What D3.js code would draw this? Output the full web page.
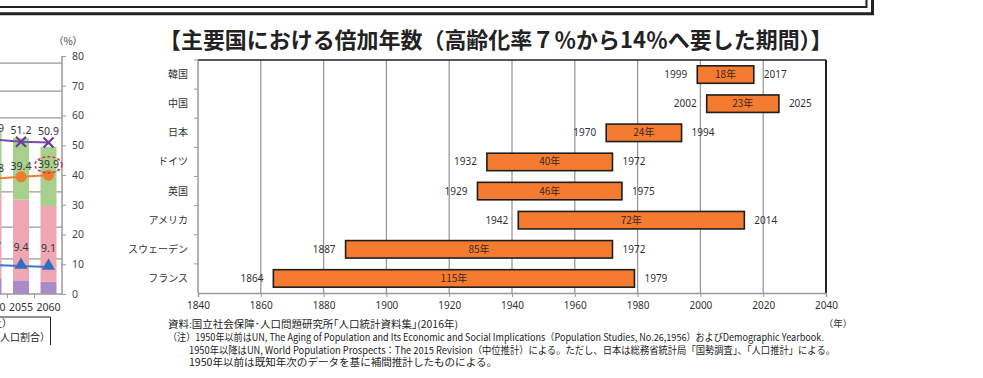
<!DOCTYPE html>
<html>
<head>
<meta charset="utf-8">
<script src="https://cdn.jsdelivr.net/npm/d3@7"></script>
<style>
  body { margin: 0; background: #fff; }
  svg { display: block; font-family: "Noto Sans CJK JP", "Noto Sans", sans-serif; }
</style>
</head>
<body>
<div id="chart"></div>
<script>
// データ（右：倍加年数）
var countries = ["韓国", "中国", "日本", "ドイツ", "英国", "アメリカ", "スウェーデン", "フランス"];
var startYears = [1999, 2002, 1970, 1932, 1929, 1942, 1887, 1864];
var endYears = [2017, 2025, 1994, 1972, 1975, 2014, 1972, 1979];
var xTicks = [1840, 1860, 1880, 1900, 1920, 1940, 1960, 1980, 2000, 2020, 2040];

// データ（左：切れている図）
var leftYears = ["2050", "2055", "2060"];
var stackPurple = [5.3, 4.6, 4.1];
var stackPink = [28.6, 27.1, 25.5];
var stackGreen = [21.1, 20.7, 19.9];
var lineCross = [51.9, 51.2, 50.9];
var lineCircle = [38.8, 39.4, 39.9];
var lineTriangle = [9.7, 9.4, 9.1];
var leftTicks = [0, 10, 20, 30, 40, 50, 60, 70, 80];
var tableRules = [11.8, 22.5, 34.3, 59.2, 68.2, 77.6];

var notes = [
  "資料:国立社会保障･人口問題研究所｢人口統計資料集｣(2016年)",
  "（注）1950年以前はUN, The Aging of Population and Its Economic and Social Implications（Population Studies, No.26,1956）およびDemographic Yearbook.",
  "1950年以降はUN, World Population Prospects：The 2015 Revision（中位推計）による。ただし、日本は総務省統計局「国勢調査」、「人口推計」による。",
  "1950年以前は既知年次のデータを基に補間推計したものによる。"
];

var width = 983, height = 378;

var svg = d3.select("#chart").append("svg")
    .attr("width", width)
    .attr("height", height);

// 上の二重線の枠
svg.append("path").attr("d", "M0,7H866.5V0").attr("fill", "none").attr("stroke", "#222").attr("stroke-width", 2);
svg.append("path").attr("d", "M0,13.8H872.5V0").attr("fill", "none").attr("stroke", "#222").attr("stroke-width", 3);

// ---------- 左の図（一部だけ見えている） ----------
var gl = svg.append("g");
var ly = d3.scaleLinear().domain([0, 80]).range([294, 56]);
var lx = d3.scalePoint().domain(leftYears).range([-6.5, 48.5]);

gl.selectAll("line.rule")
    .data(tableRules)
    .join("line")
    .attr("x1", 0).attr("x2", 62)
    .attr("y1", d => ly(d)).attr("y2", d => ly(d))
    .attr("stroke", "#9a9a9a").attr("stroke-width", 1.2);

var stacks = [
  { vals: stackPurple, color: "#a98bc9" },
  { vals: stackPink, color: "#f1a7b3" },
  { vals: stackGreen, color: "#a8d08d" }
];
var base = [0, 0, 0];
stacks.forEach(function (s) {
  var b0 = base.slice();
  gl.selectAll(null)
      .data(leftYears)
      .join("rect")
      .attr("x", d => lx(d) - 8)
      .attr("width", 16)
      .attr("y", (d, i) => ly(b0[i] + s.vals[i]))
      .attr("height", (d, i) => ly(b0[i]) - ly(b0[i] + s.vals[i]))
      .attr("fill", s.color);
  base = base.map((v, i) => v + s.vals[i]);
});

// 右軸
gl.append("line").attr("x1", 62).attr("x2", 62).attr("y1", 56).attr("y2", 294)
    .attr("stroke", "#9a9a9a").attr("stroke-width", 1.5);
gl.append("line").attr("x1", 0).attr("x2", 62).attr("y1", 294).attr("y2", 294)
    .attr("stroke", "#9a9a9a").attr("stroke-width", 1.5);
gl.selectAll("line.bt")
    .data([7.5, 34.5])
    .join("line")
    .attr("x1", d => d).attr("x2", d => d).attr("y1", 294).attr("y2", 298)
    .attr("stroke", "#9a9a9a");
var laxis = gl.append("g").attr("transform", "translate(62,0)")
    .call(d3.axisRight(ly).tickValues(leftTicks).tickSize(4).tickPadding(6));
laxis.select(".domain").remove();
laxis.selectAll("line").attr("stroke", "#9a9a9a");
laxis.selectAll("text").attr("font-size", 10.5).attr("fill", "#444").attr("font-family", "Noto Sans, sans-serif");
gl.append("text").attr("x", 68).attr("y", 45).attr("text-anchor", "middle")
    .attr("font-size", 10).attr("fill", "#444").text("（%）");

// 折れ線
function drawLine(vals, color) {
  gl.append("path")
      .datum(vals)
      .attr("d", d3.line().x((d, i) => lx(leftYears[i])).y(d => ly(d)))
      .attr("fill", "none").attr("stroke", color).attr("stroke-width", 2);
}
drawLine(lineCross, "#7a4aa8");
drawLine(lineCircle, "#ed7d31");
drawLine(lineTriangle, "#3a78c3");

gl.selectAll("path.cross")
    .data(lineCross)
    .join("path")
    .attr("d", (d, i) => {
      var x = lx(leftYears[i]), y = ly(d), r = 5;
      return "M" + (x - r) + "," + (y - r) + "L" + (x + r) + "," + (y + r) + "M" + (x - r) + "," + (y + r) + "L" + (x + r) + "," + (y - r);
    })
    .attr("stroke", "#6a3a9c").attr("stroke-width", 2.2);
gl.selectAll("circle.dot")
    .data(lineCircle)
    .join("circle")
    .attr("cx", (d, i) => lx(leftYears[i])).attr("cy", d => ly(d)).attr("r", 5.5)
    .attr("fill", "#ed7d31");
gl.selectAll("path.tri")
    .data(lineTriangle)
    .join("path")
    .attr("d", d3.symbol().type(d3.symbolTriangle).size(75))
    .attr("transform", (d, i) => "translate(" + lx(leftYears[i]) + "," + (ly(d) - 1) + ")")
    .attr("fill", "#2f6fbf");

function lineLabels(vals, dy) {
  gl.selectAll(null)
      .data(vals)
      .join("text")
      .attr("x", (d, i) => lx(leftYears[i]))
      .attr("y", d => ly(d) - dy)
      .attr("text-anchor", "middle")
      .attr("font-size", 10.5).attr("fill", "#333")
      .attr("font-family", "Noto Sans, sans-serif")
      .text(d => d.toFixed(1));
}
lineLabels(lineCross, 8);
lineLabels(lineCircle, 7);
lineLabels(lineTriangle, 15);

// 2060年の39.9を囲む赤い点線
gl.append("ellipse")
    .attr("cx", lx("2060")).attr("cy", ly(lineCircle[2]) - 10.5)
    .attr("rx", 13.5).attr("ry", 8)
    .attr("fill", "none").attr("stroke", "#d9303a").attr("stroke-width", 1.5)
    .attr("stroke-dasharray", "3,2");

gl.selectAll("text.xl")
    .data(leftYears)
    .join("text")
    .attr("x", d => lx(d)).attr("y", 311)
    .attr("text-anchor", "middle")
    .attr("font-size", 10.5).attr("fill", "#333")
    .attr("font-family", "Noto Sans, sans-serif")
    .text(d => d);

// 凡例の箱（一部）
gl.append("path").attr("d", "M0,317H50.5V345").attr("fill", "none").attr("stroke", "#222").attr("stroke-width", 1);
gl.append("text").attr("x", 12).attr("y", 327).attr("text-anchor", "end")
    .attr("font-size", 10).attr("fill", "#222").text("（65歳以上）");
gl.append("text").attr("x", 50).attr("y", 341).attr("text-anchor", "end")
    .attr("font-size", 10).attr("fill", "#222").text("（生産年齢人口割合）");

// ---------- 右の図：倍加年数 ----------
var margin = { left: 198, right: 826, top: 60, bottom: 293 };

var x = d3.scaleLinear().domain([1840, 2040]).range([margin.left, margin.right]);
var y = d3.scaleBand().domain(countries).range([margin.top, margin.bottom]).paddingInner(0.4).paddingOuter(0.2);
var yb = d3.scaleBand().domain(countries).range([margin.top, margin.bottom]);

var g = svg.append("g");

// タイトル（元の図の幅に合わせる）
g.append("text")
    .attr("x", 159).attr("y", 48)
    .attr("font-size", 21).attr("font-weight", "bold").attr("fill", "#222")
    .text("【主要国における倍加年数（高齢化率７％から14％へ要した期間）】")
    .each(function () {
      var w = this.getComputedTextLength();
      if (w > 0) d3.select(this).attr("font-size", 21 * 674 / w);
    });

// 縦のグリッド線
g.selectAll("line.grid")
    .data(xTicks.slice(1, -1))
    .join("line")
    .attr("x1", d => x(d)).attr("x2", d => x(d))
    .attr("y1", margin.top).attr("y2", margin.bottom)
    .attr("stroke", "#9a9a9a").attr("stroke-width", 1.3);

// 枠（上と右は黒）
g.append("line").attr("x1", margin.left).attr("x2", margin.right).attr("y1", margin.top).attr("y2", margin.top)
    .attr("stroke", "#222").attr("stroke-width", 1.5);
g.append("line").attr("x1", margin.right).attr("x2", margin.right).attr("y1", margin.top).attr("y2", margin.bottom)
    .attr("stroke", "#222").attr("stroke-width", 2);

// 軸
var xAxis = g.append("g").attr("transform", "translate(0," + margin.bottom + ")")
    .call(d3.axisBottom(x).tickValues(xTicks).tickFormat(d3.format("d")).tickSize(4).tickPadding(5));
xAxis.select(".domain").attr("stroke", "#9a9a9a").attr("stroke-width", 1.5);
xAxis.selectAll("line").attr("stroke", "#9a9a9a");
xAxis.selectAll("text").attr("font-size", 10).attr("fill", "#333").attr("font-family", "Noto Sans, sans-serif");

g.append("line").attr("x1", margin.left).attr("x2", margin.left).attr("y1", margin.top).attr("y2", margin.bottom)
    .attr("stroke", "#9a9a9a").attr("stroke-width", 1.5);
g.selectAll("line.ytick")
    .data(countries)
    .join("line")
    .attr("x1", margin.left - 4).attr("x2", margin.left)
    .attr("y1", d => yb(d)).attr("y2", d => yb(d))
    .attr("stroke", "#9a9a9a");

g.selectAll("text.cat")
    .data(countries)
    .join("text")
    .attr("x", 188)
    .attr("y", d => yb(d) + yb.bandwidth() / 2)
    .attr("dy", "0.35em")
    .attr("text-anchor", "end")
    .attr("font-size", 10).attr("fill", "#333")
    .text(d => d);

// バー
g.selectAll("rect.bar")
    .data(countries)
    .join("rect")
    .attr("x", (d, i) => x(startYears[i]))
    .attr("width", (d, i) => x(endYears[i]) - x(startYears[i]))
    .attr("y", d => y(d))
    .attr("height", y.bandwidth())
    .attr("fill", "#f47b30")
    .attr("stroke", "#1e1e1e").attr("stroke-width", 1.6);

// 年数ラベル
g.selectAll("text.dur")
    .data(countries)
    .join("text")
    .attr("x", (d, i) => (x(startYears[i]) + x(endYears[i])) / 2)
    .attr("y", d => y(d) + y.bandwidth() / 2)
    .attr("dy", "0.35em")
    .attr("text-anchor", "middle")
    .attr("font-size", 10).attr("fill", "#3a2a20")
    .text((d, i) => (endYears[i] - startYears[i]) + "年");

g.selectAll("text.start")
    .data(countries)
    .join("text")
    .attr("x", (d, i) => x(startYears[i]) - 10)
    .attr("y", d => y(d) + y.bandwidth() / 2)
    .attr("dy", "0.35em")
    .attr("text-anchor", "end")
    .attr("font-size", 10).attr("fill", "#333").attr("font-family", "Noto Sans, sans-serif")
    .text((d, i) => startYears[i]);

g.selectAll("text.end")
    .data(countries)
    .join("text")
    .attr("x", (d, i) => x(endYears[i]) + 10)
    .attr("y", d => y(d) + y.bandwidth() / 2)
    .attr("dy", "0.35em")
    .attr("text-anchor", "start")
    .attr("font-size", 10).attr("fill", "#333").attr("font-family", "Noto Sans, sans-serif")
    .text((d, i) => endYears[i]);

g.append("text").attr("x", 838).attr("y", 327).attr("text-anchor", "middle")
    .attr("font-size", 9.5).attr("fill", "#333").text("（年）");

// 注記（幅を元の図に合わせる）
var noteX = [168, 168, 189, 189];
var noteY = [328, 341, 353.5, 366];
var noteW = [290, 656, 646, 308];
g.selectAll("text.note")
    .data(notes)
    .join("text")
    .attr("x", (d, i) => noteX[i])
    .attr("y", (d, i) => noteY[i])
    .attr("font-size", 9.8).attr("fill", "#222")
    .attr("textLength", (d, i) => noteW[i])
    .attr("lengthAdjust", "spacingAndGlyphs")
    .text(d => d);
</script>
</body>
</html>
